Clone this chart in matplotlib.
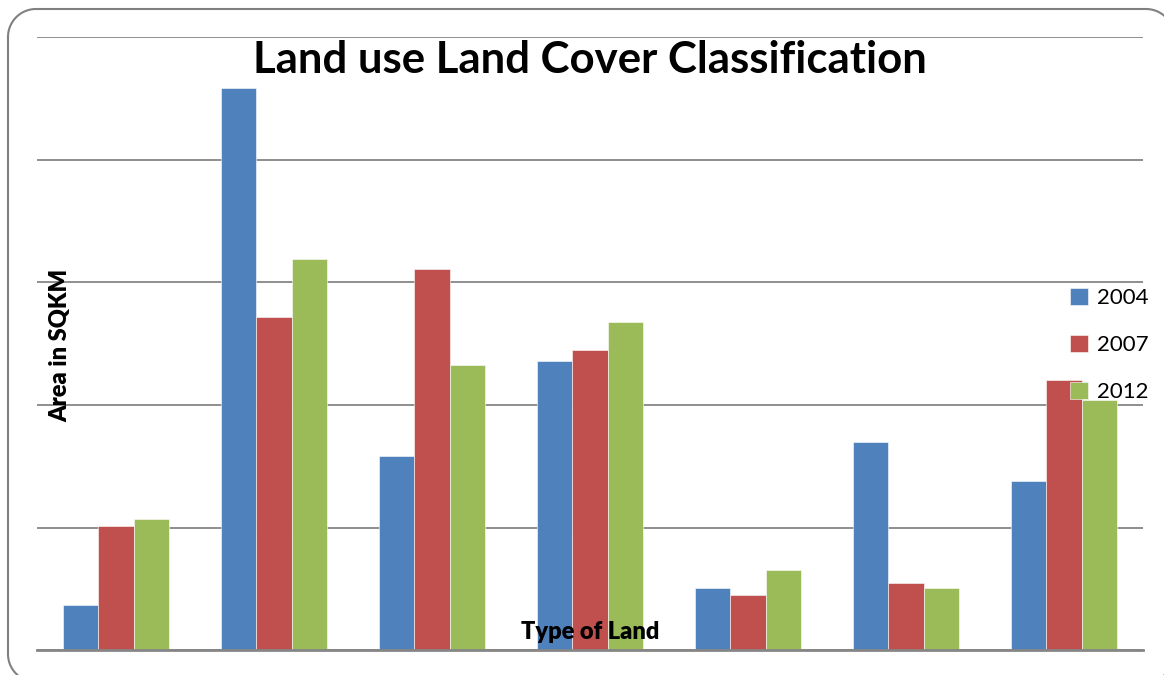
import numpy as np
import matplotlib.pyplot as plt

years = ['2004', '2007', '2012']
# seven land categories, no names are shown on the chart
v2004 = [3.7, 45.9, 15.8, 23.6, 5.1, 17.0, 13.8]
v2007 = [10.1, 27.2, 31.1, 24.5, 4.5, 5.5, 22.0]
v2012 = [10.7, 31.9, 23.3, 26.8, 6.5, 5.1, 20.4]

colors = ['#4F81BD', '#C0504D', '#9BBB59']
grid_c = '#868686'

plt.rcParams['font.family'] = ['Lato', 'DejaVu Sans']

fig = plt.figure(figsize=(11.64, 6.75), dpi=100)

# background layer in pixel units for the rounded outer frame
bg = fig.add_axes([0, 0, 1, 1], zorder=-1)
bg.set_xlim(0, 1164)
bg.set_ylim(675, 0)
bg.axis('off')
x0, y0, x1, y1, r = 8, 9, 1174, 682, 28
t = np.linspace(0, np.pi / 2, 30)
xs = np.concatenate([x0 + r - r * np.cos(t), x1 - r + r * np.sin(t),
                     x1 - r + r * np.cos(t), x0 + r - r * np.sin(t), [x0]])
ys = np.concatenate([y0 + r - r * np.sin(t), y0 + r - r * np.cos(t),
                     y1 - r + r * np.sin(t), y1 - r + r * np.cos(t), [y0 + r]])
bg.plot(xs, ys, color='#808080', linewidth=1.5)

ax = fig.add_axes([37 / 1164, 1 - 650 / 675, 1106 / 1164, (650 - 37.5) / 675])
ax.patch.set_alpha(0)

x = np.arange(len(v2004))
w = 0.222
for i, (vals, lab) in enumerate(zip([v2004, v2007, v2012], years)):
    ax.bar(x + (i - 1) * w, vals, w, color=colors[i], label=lab,
           edgecolor='white', linewidth=0.4, zorder=3)

ax.set_xlim(-0.5, len(v2004) - 0.5)
ax.set_ylim(0, 50)
ax.set_yticks(np.arange(0, 51, 10))
ax.set_xticks([])
ax.set_yticklabels([])
ax.tick_params(left=False, bottom=False)
ax.grid(axis='y', color=grid_c, linewidth=1.3, zorder=0)
for s in ['top', 'right', 'left']:
    ax.spines[s].set_visible(False)
ax.spines['bottom'].set_color(grid_c)
ax.spines['bottom'].set_linewidth(2)
ax.spines['bottom'].set_zorder(4)

fig.text(590 / 1164, 1 - 60 / 675, 'Land use Land Cover Classification',
         ha='center', va='center', fontsize=31.5, fontweight='bold')
fig.text(60 / 1164, 1 - 345 / 675, 'Area in SQKM', rotation=90,
         ha='center', va='center', fontsize=17, fontweight='heavy')
fig.text(590 / 1164, 1 - 632 / 675, 'Type of Land',
         ha='center', va='center', fontsize=17, fontweight='heavy', zorder=10)

leg = fig.legend(loc='upper left', bbox_to_anchor=(1050 / 1164, 1 - 268 / 675),
                 frameon=False, fontsize=16, handlelength=0.8, handleheight=0.8,
                 handletextpad=0.4, labelspacing=1.2)

plt.savefig('out.png', dpi=100)
